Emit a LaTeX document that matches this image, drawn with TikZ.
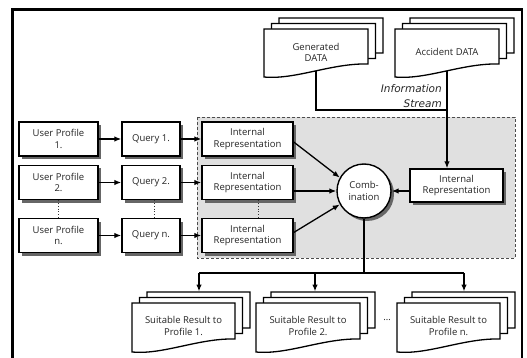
\documentclass[tikz,border=0pt]{standalone}
\usepackage{fontspec}
\setmainfont{Open Sans}
\newfontfamily\streamfont{DejaVu Sans}
\usetikzlibrary{arrows.meta,shadows}
\newcommand{\docone}[4]{%
  \draw[docline] ({#1},{#2}) -- ({#1+#3},{#2}) -- ({#1+#3},{#2+#4-13})
    .. controls ({#1+0.65*#3},{#2+#4-14}) and ({#1+0.3*#3},{#2+#4+3}) .. ({#1},{#2+#4}) -- cycle;}
\newcommand{\docstack}[4]{%
  \docone{#1+15}{#2-11}{#3}{#4}%
  \docone{#1+7.5}{#2-5.5}{#3}{#4}%
  \docone{#1}{#2}{#3}{#4}}
\begin{document}
\begin{tikzpicture}[x=1pt,y=-1pt,
  docline/.style={draw=black, line width=1.3pt, fill=white, line join=miter},
  basefont/.style={font=\fontsize{9.5}{11.7}\selectfont, text=black!85},
  box/.style={basefont, draw, line width=1.4pt, fill=white, minimum height=34pt,
    align=center, inner sep=1pt,
    drop shadow={shadow xshift=3pt, shadow yshift=-3pt, fill=black!60, opacity=1}},
  txt/.style={basefont, align=center, inner sep=1pt},
  line/.style={draw=black, line width=1.3pt},
  arr/.style={line, -{Latex[length=7pt,width=5.5pt]}},
  dotline/.style={draw=black!80, line width=0.8pt, dotted}]
\useasboundingbox (0,0) rectangle (527,358);
% outer frame
\draw[line width=2.3pt] (12.5,365) -- (12.5,9.5) -- (522,9.5) -- (522,365);
% grey region
\draw[draw=black!70, fill=black!12, line width=0.7pt, dash pattern=on 3pt off 2pt]
  (197,117) rectangle (515,258);
% document stacks
\docstack{264}{29}{104}{48}
\docstack{395}{29}{104}{48}
\docstack{132}{303}{103}{49}
\docstack{256}{303}{104}{49}
\docstack{397}{303}{103}{49}
\node[txt] (gen) at (316,52.5) {Generated\\DATA};
\node[txt] (acc) at (447,52) {Accident DATA};
\node[txt] (res1) at (183.5,326) {Suitable Result to\\Profile 1.};
\node[txt] (res2) at (308,326) {Suitable Result to\\Profile 2.};
\node[txt] (resn) at (448.5,326) {Suitable Result to\\Profile n.};
\node[txt] (dots) at (387,320) {\ldots};
% boxes
\node[box, minimum width=79pt] (up1) at (58.5,139) {User Profile\\1.};
\node[box, minimum width=79pt] (up2) at (58.5,182.5) {User Profile\\2.};
\node[box, minimum width=79pt] (upn) at (58.5,235.5) {User Profile\\n.};
\node[box, minimum width=58pt] (q1) at (151,139) {Query 1.};
\node[box, minimum width=58pt] (q2) at (151,182.5) {Query 2.};
\node[box, minimum width=58pt] (qn) at (151,235.5) {Query n.};
\node[box, minimum width=91pt] (ir1) at (247.5,139) {Internal\\Representation};
\node[box, minimum width=91pt] (ir2) at (247.5,182.5) {Internal\\Representation};
\node[box, minimum width=91pt] (irn) at (247.5,235.5) {Internal\\Representation};
\node[box, minimum width=93pt, minimum height=33pt] (irr) at (456.5,185.5) {Internal\\Representation};
\node[box, circle, minimum size=54pt] (comb) at (364,191) {Comb-\\ination};
% information stream
\node[txt, anchor=north east, align=right, inner sep=0pt,
  font=\streamfont\itshape\fontsize{10.5}{15}\selectfont, text=black!85] (info) at (442,84) {Information\\Stream};
\coordinate (genb) at (316,71.5);
\coordinate (accb) at (447,71.5);
\coordinate (join) at (447,110);
\draw[line] (genb) |- (join);
\draw[arr] (accb) -- (accb |- irr.north);
% dotted continuation
\draw[dotline] (up2.south) -- (upn.north);
\draw[dotline] ([xshift=3pt]q2.south) -- ([xshift=3pt]qn.north);
\draw[dotline] ([xshift=11pt]ir2.south) -- ([xshift=11pt]irn.north);
% row arrows
\foreach \r in {1,2,n}{
  \draw[arr] (up\r.east) -- (q\r.west);
  \draw[arr] (q\r.east) -- (ir\r.west);
}
\draw[arr] ([yshift=-3pt]ir1.east) -- (comb.151);
\draw[arr] (ir2.east |- comb.west) -- (comb.west);
\draw[arr] ([yshift=3pt]irn.east) -- (comb.209);
\draw[arr] (irr.west |- comb.east) -- (comb.east);
% outputs
\coordinate (split) at (364,273);
\coordinate (s1) at (199,273);
\coordinate (s2) at (315,273);
\coordinate (s3) at (464,273);
\coordinate (t1) at (199,291.5);
\coordinate (t2) at (315,291.5);
\coordinate (t3) at (464,291.5);
\draw[line] (comb.south) -- (split);
\draw[line] (s1) -- (s3);
\draw[arr] (s1) -- (t1);
\draw[arr] (s2) -- (t2);
\draw[arr] (s3) -- (t3);
\end{tikzpicture}
\end{document}
